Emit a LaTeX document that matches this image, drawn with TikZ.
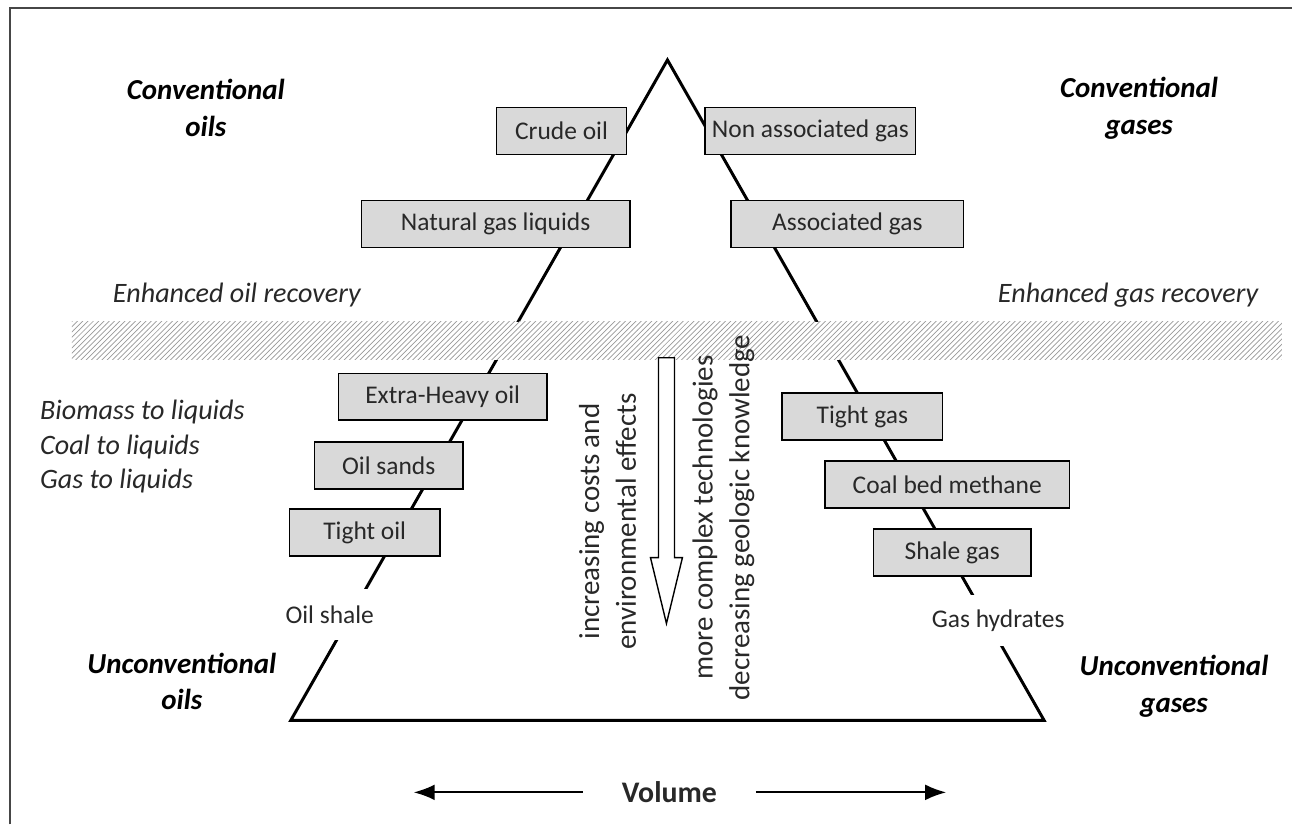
\documentclass[tikz,border=0pt]{standalone}
\usepackage{fontspec}
\setmainfont{Carlito}
\usepackage{tikz}
\usetikzlibrary{positioning,calc,patterns,arrows.meta}

\begin{document}
\begin{tikzpicture}[x=0.2mm,y=-0.2mm]
\definecolor{boxgray}{RGB}{217,217,217}
\definecolor{framegray}{RGB}{70,70,70}
\definecolor{textgray}{RGB}{40,40,40}
\tikzset{
  resbox/.style={
    draw=black,
    line width=0.8pt,
    fill=boxgray,
    minimum height=9.4mm,
    inner sep=1pt,
    font=\fontsize{14.5}{17}\selectfont,
    text=textgray
  },
  grouplabel/.style={align=center, font=\fontsize{16.5}{21}\selectfont\bfseries\itshape},
  methodlabel/.style={font=\fontsize{16}{18}\selectfont\itshape, text=textgray},
  depositlabel/.style={fill=white, minimum height=29pt, inner xsep=2pt, font=\fontsize{14.5}{17}\selectfont, text=textgray},
  trendlabel/.style={rotate=90, align=center, font=\fontsize{16.5}{21}\selectfont, text=textgray},
  pyramid/.style={line width=1.7pt, line join=miter},
  volarrow/.style={line width=1.1pt, -{Latex[length=12pt,width=9pt]}}
}

% frame (cut off at right and bottom)
\draw[framegray, line width=1.2pt] (10,825) -- (10,8) -- (1293,8);
\useasboundingbox (0,0) rectangle (1293,825);

% pyramid
\coordinate (apex) at (668,60);
\coordinate (botleft) at (291,721);
\coordinate (botright) at (1045,721);
\draw[pyramid] (botleft) -- (apex) -- (botright) -- cycle;

% recovery band
\path[preaction={fill=white}, pattern=north east lines, pattern color=gray!80]
  (72,322) rectangle (1283,360);

% hollow arrow
\draw[line width=0.8pt, fill=white] (659,358) -- (675,358) -- (675,558) -- (683,558)
  -- (667,624) -- (651,558) -- (659,558) -- cycle;

% conventional
\node[resbox, minimum width=26mm] (crude) at (562,131) {Crude oil};
\node[resbox, minimum width=42.2mm] (nonassoc) at (811,131) {Non associated gas};
\node[resbox, minimum width=53.8mm] (ngl) at (496,224) {Natural gas liquids};
\node[resbox, minimum width=46.6mm] (assoc) at (848,224) {Associated gas};

% unconventional
\node[resbox, minimum width=41.8mm] (xheavy) at (443,397) {Extra-Heavy oil};
\node[resbox, minimum width=29.8mm] (oilsands) at (389,466) {Oil sands};
\node[resbox, minimum width=30.2mm] (tightoil) at (365,533) {Tight oil};
\node[resbox, minimum width=32.2mm] (tightgas) at (863,417) {Tight gas};
\node[resbox, minimum width=49mm] (cbm) at (948,485) {Coal bed methane};
\node[resbox, minimum width=31.6mm] (shalegas) at (953,553) {Shale gas};

\node[depositlabel] (oilshale) at (330,615) {Oil shale};
\node[depositlabel] (hydrates) at (999,621) {Gas hydrates};

% corner labels
\node[grouplabel] (convoil) at (206,108) {Conventional\\oils};
\node[grouplabel] (convgas) at (1140,108) {Conventional\\gases};
\node[grouplabel] (unconvoil) at (182,682) {Unconventional\\oils};
\node[grouplabel] (unconvgas) at (1175,687) {Unconventional\\gases};

\node[methodlabel] (eor) at (237,295) {Enhanced oil recovery};
\node[methodlabel] (egr) at (1129,295) {Enhanced gas recovery};
\node[methodlabel, anchor=west, align=left, font=\fontsize{16}{19.8}\selectfont\itshape]
  (toliquids) at (34,447) {Biomass to liquids\\Coal to liquids\\Gas to liquids};

% trends
\node[trendlabel] (costs) at (608,522) {increasing costs and\\environmental effects};
\node[trendlabel] (techno) at (724,518) {more complex technologies\\decreasing geologic knowledge};

% volume
\node[font=\fontsize{17}{20}\selectfont\bfseries, text=textgray, inner xsep=22pt] (volume) at (670,793) {Volume};
\coordinate (volleft) at (414,793);
\coordinate (volright) at (947,793);
\draw[volarrow] (volume) -- (volleft);
\draw[volarrow] (volume) -- (volright);
\end{tikzpicture}
\end{document}
